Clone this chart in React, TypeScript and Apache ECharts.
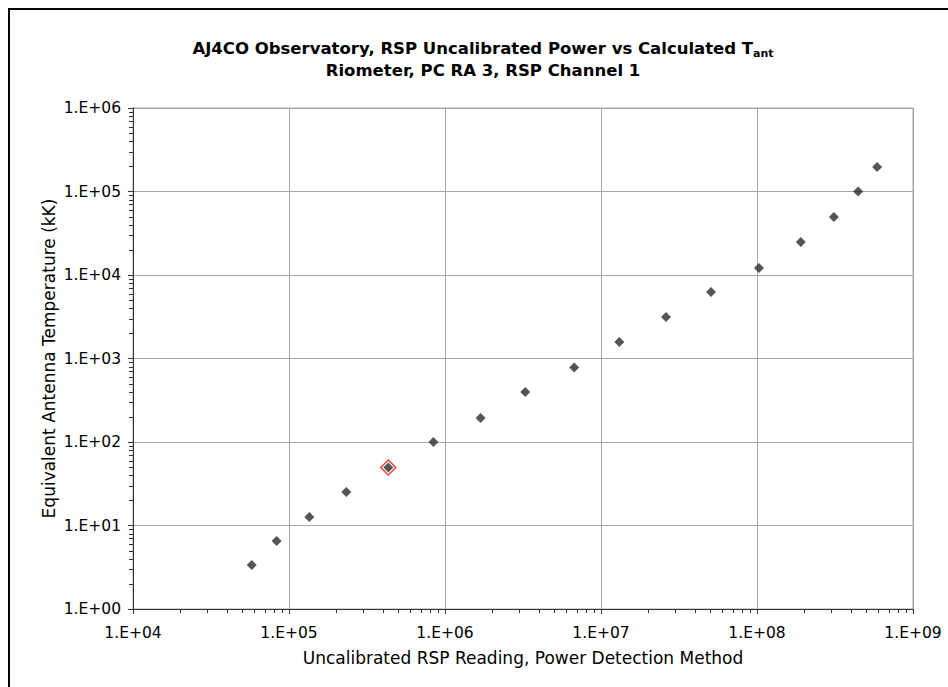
import React, { useEffect, useRef } from 'react';
import * as echarts from 'echarts';

// Uncalibrated RSP reading (x) vs equivalent antenna temperature in kK (y)
const readings = [57700, 83300, 135000, 233000, 433000, 843000, 1.69e6, 3.27e6, 6.73e6, 1.31e7, 2.61e7, 5.07e7, 1.03e8, 1.91e8, 3.11e8, 4.45e8, 5.89e8];
const tempsKK = [3.37, 6.5, 12.6, 25.2, 49.5, 100, 194, 397, 780, 1580, 3140, 6250, 12100, 24800, 49500, 100000, 196000];
const highlightIndex = 4;

const xTickLabels = ['1.E+04', '1.E+05', '1.E+06', '1.E+07', '1.E+08', '1.E+09'];
const yTickLabels = ['1.E+00', '1.E+01', '1.E+02', '1.E+03', '1.E+04', '1.E+05', '1.E+06'];
const xDecades = [1e4, 1e5, 1e6, 1e7, 1e8];
const yDecades = [1, 10, 100, 1000, 1e4, 1e5];
const minorMultipliers = [2, 3, 4, 5, 6, 7, 8, 9];

const FONT = 'DejaVu Sans, Verdana, sans-serif';
const AXIS_COLOR = '#333';

export default function App() {
  const ref = useRef<HTMLDivElement>(null);
  useEffect(() => {
    document.body.style.margin = '0';
    if (!ref.current) return;
    const chart = echarts.init(ref.current, undefined, { renderer: 'svg' });
    const xMin = xDecades[0];
    const yMin = yDecades[0];
    const labelFor = (labels: string[], base: number) => (v: number) => {
      const i = Math.round(Math.log10(v) - Math.log10(base));
      return labels[i] ?? '';
    };
    const points = readings.map((x, i) => [x, tempsKK[i]]);
    const frame = {
      id: 'frame',
      type: 'rect',
      shape: { x: 9, y: 9, width: 1000, height: 1000 },
      style: { fill: 'none', stroke: '#000', lineWidth: 2 },
      silent: true,
    };

    chart.setOption({
      animation: false,
      backgroundColor: '#fff',
      title: {
        text: '{m|AJ4CO Observatory, RSP Uncalibrated Power vs Calculated T}{s|ant}\n{m|Riometer, PC RA 3, RSP Channel 1}',
        left: 478,
        top: 32,
        textAlign: 'center',
        textStyle: {
          rich: {
            m: { fontFamily: FONT, fontSize: 16.5, fontWeight: 'bold', color: '#000', lineHeight: 22 },
            s: { fontFamily: FONT, fontSize: 11, fontWeight: 'bold', color: '#000', lineHeight: 11, verticalAlign: 'bottom' },
          },
        },
      },
      graphic: [frame],
      grid: { left: 133, right: 35, top: 108, bottom: 78, show: true, borderColor: '#a6a6a6', borderWidth: 1 },
      xAxis: {
        type: 'log',
        logBase: 10,
        min: 1e4,
        max: 1e9,
        name: 'Uncalibrated RSP Reading, Power Detection Method',
        nameLocation: 'middle',
        nameGap: 40,
        nameTextStyle: { fontFamily: FONT, fontSize: 17, color: '#000' },
        axisLine: { show: true, lineStyle: { color: AXIS_COLOR, width: 1 } },
        axisTick: { show: true, length: 5, lineStyle: { color: AXIS_COLOR, width: 1 } },
        axisLabel: { fontFamily: FONT, fontSize: 15.5, color: '#000', margin: 16, formatter: labelFor(xTickLabels, 1e4) },
        splitLine: { show: true, lineStyle: { color: '#a6a6a6', width: 1 } },
      },
      yAxis: {
        type: 'log',
        logBase: 10,
        min: 1,
        max: 1e6,
        name: 'Equivalent Antenna Temperature (kK)',
        nameLocation: 'middle',
        nameGap: 76,
        nameMoveOverlap: false,
        nameTextStyle: { fontFamily: FONT, fontSize: 17, color: '#000' },
        axisLine: { show: true, lineStyle: { color: AXIS_COLOR, width: 1 } },
        axisTick: { show: true, length: 5, lineStyle: { color: AXIS_COLOR, width: 1 } },
        axisLabel: { fontFamily: FONT, fontSize: 15.5, color: '#000', margin: 12, formatter: labelFor(yTickLabels, 1) },
        splitLine: { show: true, lineStyle: { color: '#a6a6a6', width: 1 } },
      },
      series: [
        {
          type: 'scatter',
          name: 'highlight',
          silent: true,
          symbol: 'diamond',
          symbolSize: 15,
          itemStyle: { color: '#fff', borderColor: '#f01010', borderWidth: 1.5 },
          data: [points[highlightIndex]],
          z: 3,
        },
        {
          type: 'scatter',
          name: 'Tant',
          symbol: 'diamond',
          symbolSize: 10,
          itemStyle: { color: '#2a2a2a' },
          data: points,
          z: 4,
        },
      ],
    });

    // Minor ticks (log 2..9 within each decade), placed through the axes' own scales
    const ticks: any[] = [];
    xDecades.forEach((d) =>
      minorMultipliers.forEach((m) => {
        const p = chart.convertToPixel({ gridIndex: 0 }, [d * m, yMin]) as number[];
        if (!p) return;
        const x = Math.round(p[0]) + 0.5;
        ticks.push({
          type: 'line',
          silent: true,
          z: 10,
          shape: { x1: x, y1: p[1], x2: x, y2: p[1] + 4 },
          style: { stroke: AXIS_COLOR, lineWidth: 1 },
        });
      })
    );
    yDecades.forEach((d) =>
      minorMultipliers.forEach((m) => {
        const p = chart.convertToPixel({ gridIndex: 0 }, [xMin, d * m]) as number[];
        if (!p) return;
        const y = Math.round(p[1]) + 0.5;
        ticks.push({
          type: 'line',
          silent: true,
          z: 10,
          shape: { x1: p[0], y1: y, x2: p[0] - 4, y2: y },
          style: { stroke: AXIS_COLOR, lineWidth: 1 },
        });
      })
    );
    chart.setOption({ graphic: [frame, { id: 'minorTicks', type: 'group', children: ticks }] });

    return () => chart.dispose();
  }, []);
  return <div ref={ref} style={{ width: 948, height: 687 }} />;
}
